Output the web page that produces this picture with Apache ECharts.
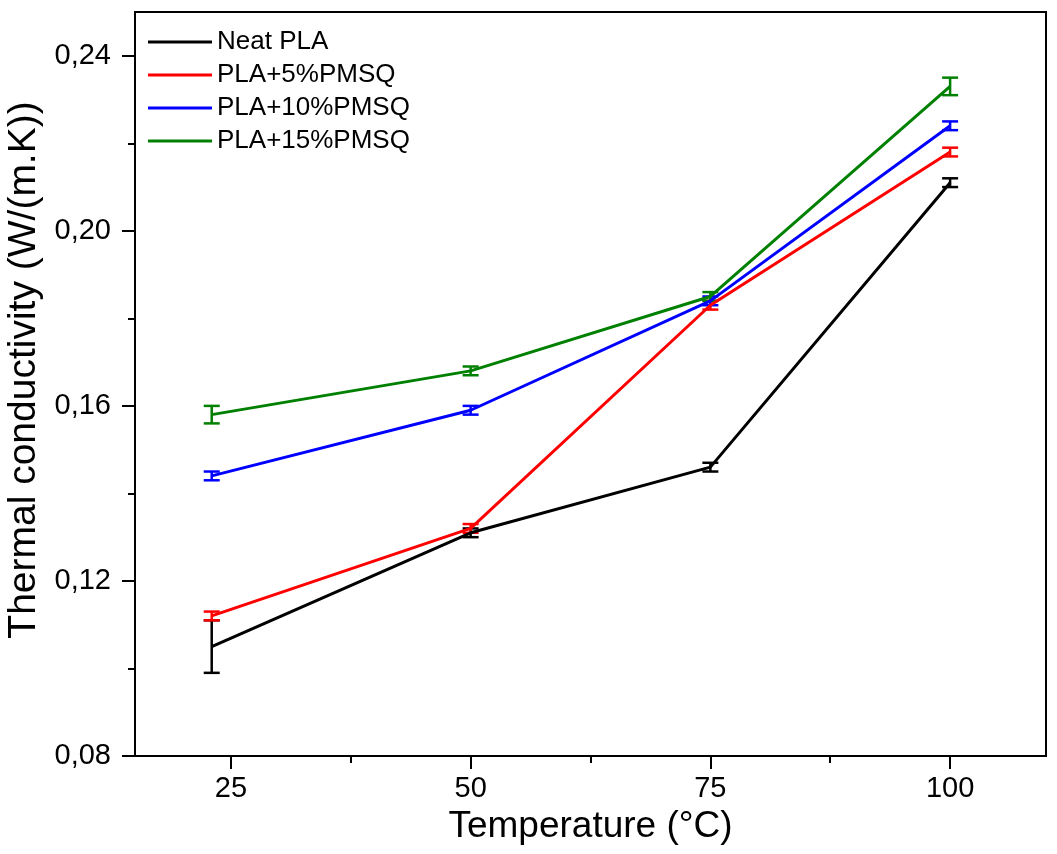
<!DOCTYPE html>
<html>
<head>
<meta charset="utf-8">
<script src="https://cdn.jsdelivr.net/npm/echarts@6/dist/echarts.min.js"></script>
<style>
  html, body { margin: 0; padding: 0; background: #fff; }
  #chart { width: 1057px; height: 854px; }
</style>
</head>
<body>
<div id="chart"></div>
<script>
// temperatures (°C)
const temps = [23, 50, 75, 100]

// thermal conductivity, W/(m.K)
const neatPLA = [0.105, 0.131, 0.146, 0.211]
const pla5 = [0.112, 0.132, 0.183, 0.218]
const pla10 = [0.144, 0.159, 0.184, 0.224]
const pla15 = [0.158, 0.168, 0.185, 0.233]

// error bars (+/-)
const errNeat = [0.006, 0.001, 0.001, 0.001]
const err5 = [0.001, 0.001, 0.001, 0.001]
const err10 = [0.001, 0.001, 0.001, 0.001]
const err15 = [0.002, 0.001, 0.001, 0.002]

const xTicks = [25, 50, 75, 100]
const xMinorTicks = [37.5, 62.5, 87.5]
const yTicks = [0.08, 0.12, 0.16, 0.2, 0.24]
const yMinorTicks = [0.1, 0.14, 0.18, 0.22]

const names = ['Neat PLA', 'PLA+5%PMSQ', 'PLA+10%PMSQ', 'PLA+15%PMSQ']
const colors = ['#000000', '#ff0000', '#0000ff', '#008000']

const font = 'Liberation Sans, Arial, sans-serif'

const chart = echarts.init(document.getElementById('chart'))

function lineSeries(name, vals, color) {
  return {
    name: name,
    type: 'line',
    symbol: 'none',
    data: temps.map((t, i) => [t, vals[i]]),
    lineStyle: { color: color, width: 3 },
    itemStyle: { color: color },
  }
}

function errSeries(name, vals, errs, color) {
  return {
    name: name,
    type: 'custom',
    data: temps.map((t, i) => [t, vals[i], errs[i]]),
    renderItem: function (params, api) {
      const x = api.value(0)
      const y = api.value(1)
      const e = api.value(2)
      const top = api.coord([x, y + e])
      const bot = api.coord([x, y - e])
      const hw = 8
      const style = { stroke: color, lineWidth: 2.5 }
      return {
        type: 'group',
        children: [
          { type: 'line', shape: { x1: top[0], y1: top[1], x2: bot[0], y2: bot[1] }, style: style },
          { type: 'line', shape: { x1: top[0] - hw, y1: top[1], x2: top[0] + hw, y2: top[1] }, style: style },
          { type: 'line', shape: { x1: bot[0] - hw, y1: bot[1], x2: bot[0] + hw, y2: bot[1] }, style: style },
        ],
      }
    },
  }
}

const allVals = [neatPLA, pla5, pla10, pla15]
const allErrs = [errNeat, err5, err10, err15]
const series = []
names.forEach((n, i) => {
  series.push(lineSeries(n, allVals[i], colors[i]))
  series.push(errSeries(n, allVals[i], allErrs[i], colors[i]))
})

const option = {
  animation: false,
  backgroundColor: '#fff',
  grid: {
    left: 135, right: 11, top: 12, bottom: 98,
    outerBoundsMode: 'none',
    show: true, borderColor: '#000', borderWidth: 2,
  },
  legend: {
    orient: 'vertical',
    left: 143,
    top: 24,
    icon: 'rect',
    itemWidth: 64,
    itemHeight: 3,
    itemGap: 7,
    textStyle: { fontFamily: font, fontSize: 26, color: '#000' },
    data: names,
  },
  xAxis: [
    {
      type: 'value', min: 15, max: 110,
      name: 'Temperature (°C)', nameLocation: 'middle', nameGap: 52,
      nameTextStyle: { fontFamily: font, fontSize: 37, color: '#000' },
      axisLine: { lineStyle: { color: '#000', width: 2 } },
      axisTick: { inside: false, length: 13, customValues: xTicks, lineStyle: { color: '#000', width: 2 } },
      axisLabel: { customValues: xTicks, margin: 18, fontFamily: font, fontSize: 29, color: '#000' },
      splitLine: { show: false },
    },
    {
      type: 'value', min: 15, max: 110, position: 'bottom',
      axisLine: { show: false },
      axisTick: { length: 7, customValues: xMinorTicks, lineStyle: { color: '#000', width: 2 } },
      axisLabel: { show: false },
      splitLine: { show: false },
    },
  ],
  yAxis: [
    {
      type: 'value', min: 0.08, max: 0.25,
      name: 'Thermal conductivity (W/(m.K))', nameLocation: 'middle', nameGap: 87,
      nameTextStyle: { fontFamily: font, fontSize: 39, color: '#000', padding: [0, 0, 0, 28] },
      axisLine: { show: true, lineStyle: { color: '#000', width: 2 } },
      axisTick: { show: true, length: 13, customValues: yTicks, lineStyle: { color: '#000', width: 2 } },
      axisLabel: {
        customValues: yTicks, margin: 24, fontFamily: font, fontSize: 29, color: '#000',
        formatter: v => v.toFixed(2).replace('.', ','),
      },
      splitLine: { show: false },
    },
    {
      type: 'value', min: 0.08, max: 0.25, position: 'left',
      axisLine: { show: false },
      axisTick: { show: true, length: 7, customValues: yMinorTicks, lineStyle: { color: '#000', width: 2 } },
      axisLabel: { show: false },
      splitLine: { show: false },
    },
  ],
  series: series,
}

chart.setOption(option)
</script>
</body>
</html>
